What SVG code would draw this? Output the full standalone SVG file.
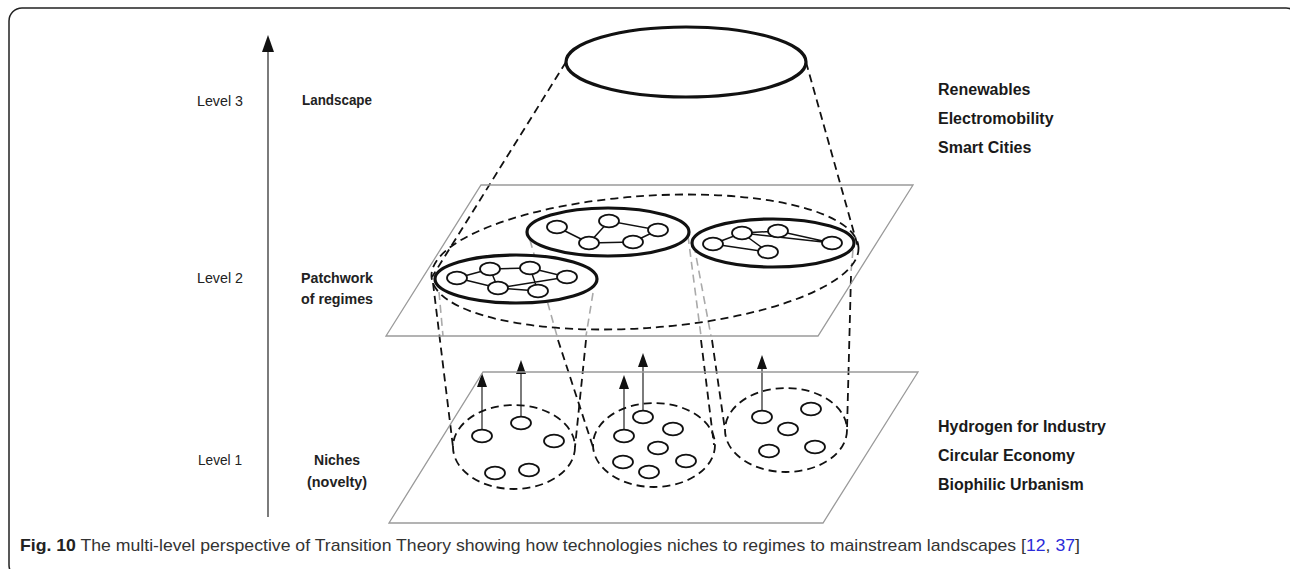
<svg xmlns="http://www.w3.org/2000/svg" width="1290" height="569" viewBox="0 0 1290 569">
<style>
.lbl{font-family:"Liberation Sans",Arial,sans-serif;font-size:15.5px;fill:#222}
.b{font-weight:bold}
.rt{font-family:"Liberation Sans",Arial,sans-serif;font-size:16px;font-weight:bold;fill:#1a1a1a}
.plane{fill:none;stroke:#9a9a9a;stroke-width:1.3}
.reg{fill:#fff;stroke:#111;stroke-width:3.2}
.nd{fill:#fff;stroke:#111;stroke-width:1.8}
.ed{stroke:#111;stroke-width:1.5;fill:none}
.dsh{fill:none;stroke:#111;stroke-width:1.8;stroke-dasharray:8 5}
.gdsh{fill:none;stroke:#aaa;stroke-width:1.6;stroke-dasharray:8 5}
.ax{stroke:#444;stroke-width:1.4;fill:none}
.cap{font-family:"Liberation Sans",Arial,sans-serif;font-size:17px;fill:#333}
</style>
<rect x="9" y="8" width="1290" height="570" rx="13" fill="none" stroke="#222" stroke-width="1.5"/>

<g id="connectors">
<line class="ax" x1="268" y1="517" x2="268" y2="50"/>
<path d="M262,52 L268,35 L274,52 Z" fill="#111"/>
<line class="dsh" x1="566" y1="62" x2="432" y2="277"/>
<line class="dsh" x1="806" y1="62" x2="858" y2="247"/>
<line class="dsh" x1="433" y1="283" x2="453" y2="447"/>
<line class="gdsh" x1="439" y1="292" x2="443" y2="336"/>
<line class="gdsh" x1="593" y1="293" x2="586" y2="336"/>
<line class="dsh" x1="586" y1="340" x2="575" y2="447"/>
<line class="gdsh" x1="530" y1="240" x2="557" y2="336"/>
<line class="dsh" x1="558" y1="340" x2="593" y2="447"/>
<line class="gdsh" x1="688" y1="236" x2="701" y2="336"/>
<line class="dsh" x1="701" y1="340" x2="714" y2="445"/>
<line class="gdsh" x1="694" y1="245" x2="711" y2="336"/>
<line class="dsh" x1="712" y1="340" x2="725" y2="430"/>
<line class="gdsh" x1="853" y1="250" x2="851" y2="272"/>
<line class="dsh" x1="851" y1="276" x2="847" y2="430"/>
<line class="ax" x1="482" y1="430" x2="482" y2="385"/>
<path d="M477,387 L482,373 L487,387 Z" fill="#111"/>
<line class="ax" x1="521" y1="417" x2="521" y2="372"/>
<path d="M516,374 L521,360 L526,374 Z" fill="#111"/>
<line class="ax" x1="624" y1="430" x2="624" y2="387"/>
<path d="M619,389 L624,375 L629,389 Z" fill="#111"/>
<line class="ax" x1="643" y1="411" x2="643" y2="365"/>
<path d="M638,367 L643,353 L648,367 Z" fill="#111"/>
<line class="ax" x1="762" y1="411" x2="762" y2="367"/>
<path d="M757,369 L762,355 L767,369 Z" fill="#111"/>
</g>

<g id="landscape">
<ellipse cx="686" cy="62" rx="120" ry="35" fill="none" stroke="#111" stroke-width="3.2"/>
</g>

<g id="regime-plane">
<polygon class="plane" points="481,185 913,185 818,336 386,336"/>
<ellipse class="dsh" cx="645" cy="262" rx="214" ry="66" transform="rotate(-4 645 262)"/>
</g>

<g id="regime-left">
<ellipse class="reg" cx="516" cy="279" rx="81" ry="24"/>
<path class="ed" d="M457,278 L490,269 L530,268 L567,277 M457,278 L498,288 L538,291 M490,269 L498,288 M530,268 L538,291 M498,288 L567,277"/>
<ellipse class="nd" cx="457" cy="278" rx="10" ry="6.3"/>
<ellipse class="nd" cx="490" cy="269" rx="10" ry="6.3"/>
<ellipse class="nd" cx="530" cy="268" rx="10" ry="6.3"/>
<ellipse class="nd" cx="567" cy="277" rx="10" ry="6.3"/>
<ellipse class="nd" cx="498" cy="288" rx="10" ry="6.3"/>
<ellipse class="nd" cx="538" cy="291" rx="10" ry="6.3"/>
</g>

<g id="regime-middle">
<ellipse class="reg" cx="608" cy="232" rx="81" ry="24"/>
<path class="ed" d="M557,227 L589,243 L609,221 L658,230 L633,242 L589,243"/>
<ellipse class="nd" cx="557" cy="227" rx="10" ry="6.3"/>
<ellipse class="nd" cx="609" cy="221" rx="10" ry="6.3"/>
<ellipse class="nd" cx="658" cy="230" rx="10" ry="6.3"/>
<ellipse class="nd" cx="589" cy="243" rx="10" ry="6.3"/>
<ellipse class="nd" cx="633" cy="242" rx="10" ry="6.3"/>
</g>

<g id="regime-right">
<ellipse class="reg" cx="773" cy="243" rx="81" ry="24"/>
<path class="ed" d="M713,244 L742,233 L778,231 L832,243 L742,233 M713,244 L768,252 L742,233"/>
<ellipse class="nd" cx="713" cy="244" rx="10" ry="6.3"/>
<ellipse class="nd" cx="742" cy="233" rx="10" ry="6.3"/>
<ellipse class="nd" cx="778" cy="231" rx="10" ry="6.3"/>
<ellipse class="nd" cx="832" cy="243" rx="10" ry="6.3"/>
<ellipse class="nd" cx="768" cy="252" rx="10" ry="6.3"/>
</g>

<g id="niche-plane">
<polygon class="plane" points="483,372 918,372 823,523 389,523"/>
</g>

<g id="niche-left">
<ellipse class="dsh" cx="514" cy="447" rx="61" ry="42"/>
<ellipse class="nd" cx="482" cy="436" rx="10" ry="6.3"/>
<ellipse class="nd" cx="521" cy="423" rx="10" ry="6.3"/>
<ellipse class="nd" cx="554" cy="441" rx="10" ry="6.3"/>
<ellipse class="nd" cx="495" cy="473" rx="10" ry="6.3"/>
<ellipse class="nd" cx="529" cy="470" rx="10" ry="6.3"/>
</g>

<g id="niche-middle">
<ellipse class="dsh" cx="654" cy="445" rx="61" ry="42"/>
<ellipse class="nd" cx="624" cy="436" rx="10" ry="6.3"/>
<ellipse class="nd" cx="643" cy="417" rx="10" ry="6.3"/>
<ellipse class="nd" cx="673" cy="429" rx="10" ry="6.3"/>
<ellipse class="nd" cx="658" cy="448" rx="10" ry="6.3"/>
<ellipse class="nd" cx="623" cy="462" rx="10" ry="6.3"/>
<ellipse class="nd" cx="649" cy="472" rx="10" ry="6.3"/>
<ellipse class="nd" cx="686" cy="461" rx="10" ry="6.3"/>
</g>

<g id="niche-right">
<ellipse class="dsh" cx="786" cy="430" rx="61" ry="42"/>
<ellipse class="nd" cx="762" cy="417" rx="10" ry="6.3"/>
<ellipse class="nd" cx="811" cy="409" rx="10" ry="6.3"/>
<ellipse class="nd" cx="788" cy="429" rx="10" ry="6.3"/>
<ellipse class="nd" cx="769" cy="451" rx="10" ry="6.3"/>
<ellipse class="nd" cx="815" cy="447" rx="10" ry="6.3"/>
</g>

<g id="labels">
<text class="lbl" x="220" y="106" text-anchor="middle" textLength="46" lengthAdjust="spacingAndGlyphs">Level 3</text>
<text class="lbl b" x="337" y="105" text-anchor="middle" textLength="70" lengthAdjust="spacingAndGlyphs">Landscape</text>
<text class="lbl" x="220" y="283" text-anchor="middle" textLength="46" lengthAdjust="spacingAndGlyphs">Level 2</text>
<text class="lbl b" x="337" y="283" text-anchor="middle" textLength="72" lengthAdjust="spacingAndGlyphs">Patchwork</text>
<text class="lbl b" x="337" y="304" text-anchor="middle" textLength="72" lengthAdjust="spacingAndGlyphs">of regimes</text>
<text class="lbl" x="220" y="465" text-anchor="middle" textLength="44" lengthAdjust="spacingAndGlyphs">Level 1</text>
<text class="lbl b" x="337" y="465" text-anchor="middle" textLength="46" lengthAdjust="spacingAndGlyphs">Niches</text>
<text class="lbl b" x="337" y="487" text-anchor="middle" textLength="60" lengthAdjust="spacingAndGlyphs">(novelty)</text>
</g>

<g id="examples-top">
<text class="rt" x="938" y="95">Renewables</text>
<text class="rt" x="938" y="124">Electromobility</text>
<text class="rt" x="938" y="153">Smart Cities</text>
</g>
<g id="examples-bottom">
<text class="rt" x="938" y="432">Hydrogen for Industry</text>
<text class="rt" x="938" y="461">Circular Economy</text>
<text class="rt" x="938" y="490">Biophilic Urbanism</text>
</g>

<g id="caption">
<text class="cap" x="20" y="551" textLength="1060" lengthAdjust="spacingAndGlyphs"><tspan font-weight="bold" fill="#222">Fig. 10</tspan> The multi-level perspective of Transition Theory showing how technologies niches to regimes to mainstream landscapes [<tspan fill="#2b2bd9">12</tspan>, <tspan fill="#2b2bd9">37</tspan>]</text>
</g>
</svg>
